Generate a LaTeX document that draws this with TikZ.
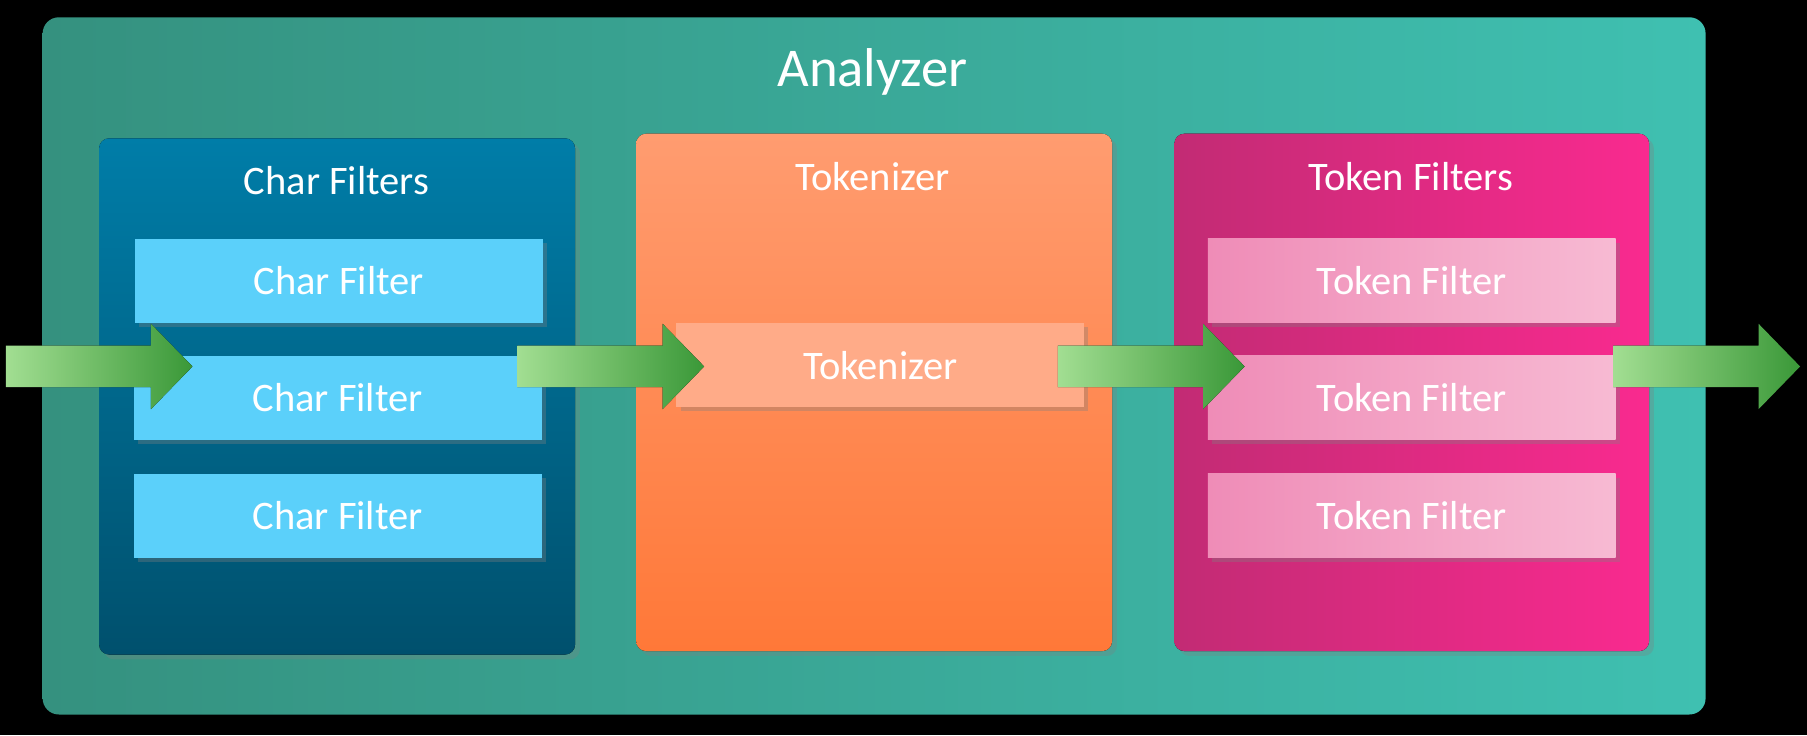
\documentclass[tikz,border=0pt]{standalone}
\usepackage{fontspec}
\setmainfont{Carlito}
\usetikzlibrary{shadows}
\definecolor{anL}{HTML}{35917F}\definecolor{anR}{HTML}{3FC0B1}
\definecolor{cfT}{HTML}{007DA8}\definecolor{cfB}{HTML}{00506D}
\definecolor{tkT}{HTML}{FF9C70}\definecolor{tkB}{HTML}{FF7838}
\definecolor{tfL}{HTML}{C22B74}\definecolor{tfR}{HTML}{F92A8F}
\definecolor{cbox}{HTML}{5BD0FA}\definecolor{tkbox}{HTML}{FFAB88}
\definecolor{tbL}{HTML}{EF8CB7}\definecolor{tbR}{HTML}{F7BAD3}
\definecolor{arL}{HTML}{A2DE92}\definecolor{arR}{HTML}{3A9838}
\tikzset{
 lbl/.style={text=white,font=\fontsize{20}{24}\selectfont},
 inner/.style={minimum width=354*0.02cm,minimum height=73*0.02cm,inner sep=0pt,drop shadow={opacity=0.35,shadow xshift=2pt,shadow yshift=-2pt},lbl},
 arr/.style={left color=arL,right color=arR}
}
\newcommand{\greenarrow}[1]{%
 \fill[arr] (#1,300) -- (#1+126,300) -- (#1+126,281) -- (#1+162,318) -- (#1+126,355) -- (#1+126,336) -- (#1,336) -- cycle;}
\begin{document}
\begin{tikzpicture}[x=0.02cm,y=-0.02cm]
\fill[black] (0,0) rectangle (1568,638);
\useasboundingbox (0,0) rectangle (1568,638);
\fill[rounded corners=8pt,left color=anL,right color=anR] (37,15) rectangle (1480,620);
\node[lbl,font=\fontsize{27}{32}\selectfont] (title) at (757,62) {Analyzer};
% panels
\fill[rounded corners=5pt,top color=cfT,bottom color=cfB,drop shadow={opacity=0.3}] (86,120) rectangle (499,568);
\node[lbl] (cft) at (292,157) {Char Filters};
\fill[rounded corners=5pt,top color=tkT,bottom color=tkB,drop shadow={opacity=0.3}] (552,116) rectangle (965,565);
\node[lbl] (tkt) at (757,153) {Tokenizer};
\fill[rounded corners=5pt,left color=tfL,right color=tfR,drop shadow={opacity=0.3}] (1019,116) rectangle (1431,565);
\node[lbl] (tft) at (1224,153) {Token Filters};
% inner boxes
\node[inner,fill=cbox] (cf1) at (294,243.5) {Char Filter};
\node[inner,fill=cbox] (cf2) at (293,345) {Char Filter};
\node[inner,fill=cbox] (cf3) at (293,447.5) {Char Filter};
\node[inner,fill=tkbox] (tk) at (764,317) {Tokenizer};
\node[inner,left color=tbL,right color=tbR] (tf1) at (1225,243.5) {Token Filter};
\node[inner,left color=tbL,right color=tbR] (tf2) at (1225,345) {Token Filter};
\node[inner,left color=tbL,right color=tbR] (tf3) at (1225,447.5) {Token Filter};
% arrows
\greenarrow{5}
\greenarrow{449}
\greenarrow{918}
\greenarrow{1400}
\end{tikzpicture}
\end{document}
